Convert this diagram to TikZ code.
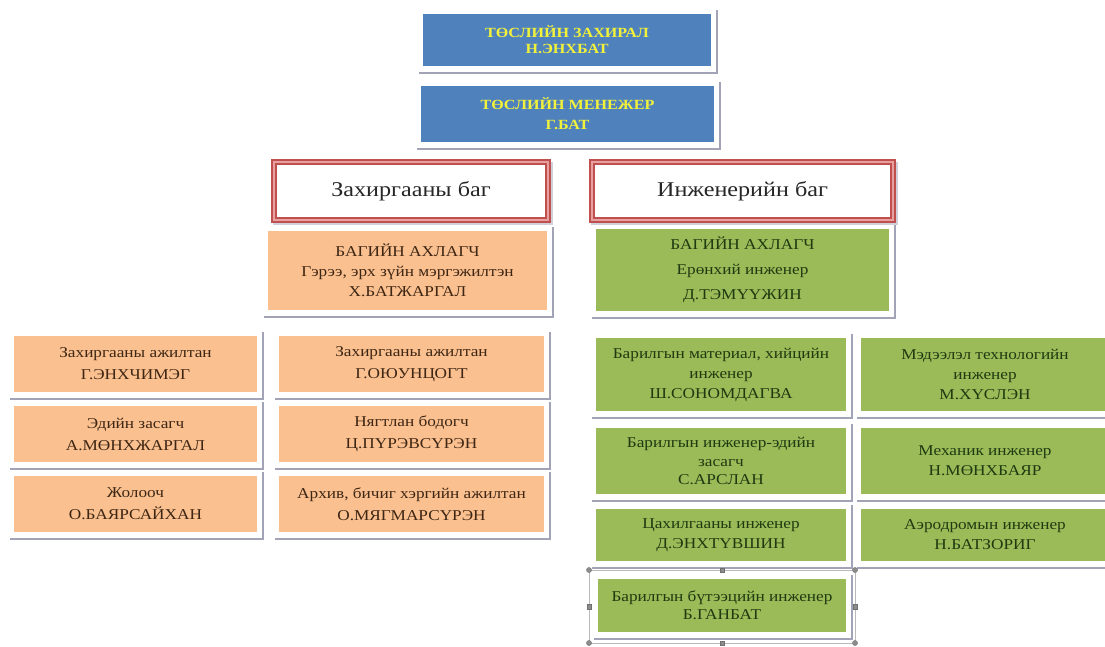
\documentclass[tikz,border=0pt]{standalone}
\usepackage{fontspec}
\usetikzlibrary{calc}
\setmainfont{Liberation Serif}[FakeStretch=1.15]
\definecolor{topblue}{HTML}{4F81BD}
\definecolor{topyellow}{HTML}{F2F23A}
\definecolor{redc}{HTML}{C0504D}
\definecolor{pinkc}{HTML}{E8A0A0}
\definecolor{orangec}{HTML}{FAC08F}
\definecolor{greenc}{HTML}{9BBB59}
\definecolor{otext}{HTML}{3E2614}
\definecolor{gtext}{HTML}{1F3A10}
\definecolor{shc}{HTML}{A3A3B8}
\definecolor{selc}{HTML}{8C8C8C}
\begin{document}
\begin{tikzpicture}[x=1pt,y=-1pt,
  every node/.style={inner sep=0pt, outer sep=0pt, align=center},
  bluebox/.style={fill=topblue, draw=white, line width=1.2pt, text=topyellow, font=\bfseries\fontsize{14}{16}\selectfont},
  teambox/.style={fill=white, draw=redc, double=pinkc, double distance=1.2pt, line width=2pt, text=black!85, font=\fontsize{21}{24}\selectfont},
  obox/.style={fill=orangec, draw=white, line width=1.2pt, text=otext, font=\fontsize{15}{22}\selectfont},
  gbox/.style={fill=greenc, draw=white, line width=1.2pt, text=gtext, font=\fontsize{15}{19}\selectfont},
  sh/.style={draw=shc, line width=2.6pt},
  selline/.style={draw=selc!60, line width=0.6pt},
  handle/.style={fill=selc, draw=selc!80!black, line width=0.3pt}
]
\useasboundingbox (0,0) rectangle (1105,646);

% top boxes
\node[bluebox, minimum width=290pt, minimum height=54pt] (b1) at (567,40) {ТӨСЛИЙН ЗАХИРАЛ\\Н.ЭНХБАТ};
\node[bluebox, minimum width=295pt, minimum height=58pt, font=\bfseries\fontsize{14}{20}\selectfont] (b2) at (567.5,114) {ТӨСЛИЙН МЕНЕЖЕР\\Г.БАТ};

% team headers
\node[teambox, minimum width=274pt, minimum height=58pt] (t1) at (411,191) {Захиргааны баг};
\node[teambox, minimum width=301pt, minimum height=58pt] (t2) at (742.5,191) {Инженерийн баг};

% team leaders
\node[obox, minimum width=281pt, minimum height=81pt, font=\fontsize{15}{20}\selectfont] (oa) at (407.5,270.5) {БАГИЙН АХЛАГЧ\\Гэрээ, эрх зүйн мэргэжилтэн\\Х.БАТЖАРГАЛ};
\node[gbox, minimum width=295pt, minimum height=84pt, font=\fontsize{15}{25}\selectfont] (ga) at (742.5,270) {БАГИЙН АХЛАГЧ\\Ерөнхий инженер\\Д.ТЭМҮҮЖИН};

% administration team
\node[obox, minimum width=245pt, minimum height=58pt] (o11) at (135.5,364) {Захиргааны ажилтан\\Г.ЭНХЧИМЭГ};
\node[obox, minimum width=245pt, minimum height=58pt] (o21) at (135.5,434) {Эдийн засагч\\А.МӨНХЖАРГАЛ};
\node[obox, minimum width=245pt, minimum height=58pt] (o31) at (135.5,504) {Жолооч\\О.БАЯРСАЙХАН};
\node[obox, minimum width=267pt, minimum height=58pt] (o12) at (411.5,364) {Захиргааны ажилтан\\Г.ОЮУНЦОГТ};
\node[obox, minimum width=267pt, minimum height=58pt] (o22) at (411.5,434) {Нягтлан бодогч\\Ц.ПҮРЭВСҮРЭН};
\node[obox, minimum width=267pt, minimum height=58pt] (o32) at (411.5,504) {Архив, бичиг хэргийн ажилтан\\О.МЯГМАРСҮРЭН};

% engineering team
\node[gbox, minimum width=252pt, minimum height=75pt, font=\fontsize{15}{20}\selectfont] (g11) at (721,374.5) {Барилгын материал, хийцийн\\инженер\\Ш.СОНОМДАГВА};
\node[gbox, minimum width=252pt, minimum height=68pt, font=\fontsize{15}{18.5}\selectfont] (g21) at (721,461) {Барилгын инженер-эдийн\\засагч\\С.АРСЛАН};
\node[gbox, minimum width=252pt, minimum height=54pt, font=\fontsize{15}{20}\selectfont] (g31) at (721,535) {Цахилгааны инженер\\Д.ЭНХТҮВШИН};
\node[gbox, minimum width=250pt, minimum height=75pt, font=\fontsize{15}{20}\selectfont] (g12) at (985,374.5) {Мэдээлэл технологийн\\инженер\\М.ХҮСЛЭН};
\node[gbox, minimum width=250pt, minimum height=68pt, font=\fontsize{15}{20}\selectfont] (g22) at (985,461) {Механик инженер\\Н.МӨНХБАЯР};
\node[gbox, minimum width=250pt, minimum height=54pt, font=\fontsize{15}{20}\selectfont] (g32) at (985,535) {Аэродромын инженер\\Н.БАТЗОРИГ};
\node[gbox, minimum width=250pt, minimum height=55pt, font=\fontsize{15}{18}\selectfont] (g4) at (722,605.5) {Барилгын бүтээцийн инженер\\Б.ГАНБАТ};

% shadows
\foreach \n in {b1,b2,oa,ga,o11,o21,o31,o12,o22,o32,g11,g21,g31,g12,g22,g32,g4}
  \draw[sh] ([shift={(-3,6)}]\n.south west) -- ([shift={(5,6)}]\n.south east) -- ([shift={(5,-3)}]\n.north east);
\foreach \n in {t1,t2}
  \draw[draw=shc!50, line width=1.5pt] ([shift={(-1,4)}]\n.south west) -- ([shift={(4,4)}]\n.south east) -- ([shift={(4,0)}]\n.north east);

% selection frame round the last box
\coordinate (s1) at ([shift={(-8,-8)}]g4.north west);
\coordinate (s2) at ([shift={(8,-8)}]g4.north east);
\coordinate (s3) at ([shift={(8,10)}]g4.south east);
\coordinate (s4) at ([shift={(-8,10)}]g4.south west);
\draw[selline] (s1) -- (s2) -- (s3) -- (s4) -- cycle;
\foreach \c in {s1,s2,s3,s4} \fill[handle] (\c) circle (2.6pt);
\foreach \a/\b in {s1/s2,s2/s3,s3/s4,s4/s1}
  \path ($(\a)!0.5!(\b)$) node[handle, minimum size=4.5pt, draw, rectangle] {};
\end{tikzpicture}
\end{document}
